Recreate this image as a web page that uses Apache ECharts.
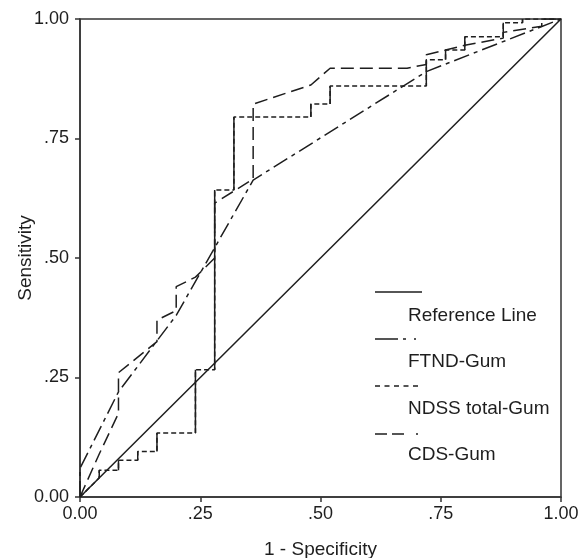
<!DOCTYPE html>
<html>
<head>
<meta charset="utf-8">
<script src="https://cdn.jsdelivr.net/npm/echarts@6/dist/echarts.min.js"></script>
<style>
html,body{margin:0;padding:0;background:#fff;}
#chart{width:587px;height:558px;}
</style>
</head>
<body>
<div id="chart"></div>
<script>
// ---- data ----
const tickLabels = ['0.00', '.25', '.50', '.75', '1.00'];
const legendNames = ['Reference Line', 'FTND-Gum', 'NDSS total-Gum', 'CDS-Gum'];

const refX = [0, 1];
const refY = [0, 1];

const ftndX = [0, 0, 0.08, 0.20, 0.36, 0.72, 1];
const ftndY = [0, 0.06, 0.22, 0.38, 0.663, 0.89, 1];

const ndssX = [0, 0.04, 0.04, 0.08, 0.08, 0.12, 0.12, 0.16, 0.16, 0.24, 0.24, 0.28, 0.28, 0.32, 0.32, 0.48, 0.48, 0.52, 0.52, 0.72, 0.72, 0.76, 0.76, 0.80, 0.80, 0.88, 0.88, 0.92, 0.92, 1];
const ndssY = [0, 0.04, 0.056, 0.056, 0.077, 0.077, 0.095, 0.095, 0.134, 0.134, 0.266, 0.266, 0.642, 0.642, 0.795, 0.795, 0.822, 0.822, 0.86, 0.86, 0.915, 0.915, 0.935, 0.935, 0.963, 0.963, 0.992, 0.992, 1, 1];

const cdsX = [0, 0.04, 0.08, 0.08, 0.16, 0.16, 0.20, 0.20, 0.24, 0.28, 0.28, 0.36, 0.36, 0.48, 0.52, 0.68, 0.72, 0.72, 0.76, 0.80, 0.88, 0.88, 0.96, 0.96, 1];
const cdsY = [0, 0.09, 0.175, 0.26, 0.325, 0.37, 0.39, 0.44, 0.46, 0.50, 0.615, 0.665, 0.822, 0.862, 0.897, 0.897, 0.905, 0.925, 0.935, 0.945, 0.96, 0.972, 0.985, 1, 1];

// ---- helpers ----
function pairs(xs, ys) { return xs.map((x, i) => [x, ys[i]]); }
// vertical steps of a staircase curve (drawn solid in the reference)
function verticalSteps(xs, ys) {
  const out = [];
  for (let i = 1; i < xs.length; i++) {
    if (xs[i] === xs[i - 1] && ys[i] !== ys[i - 1]) {
      out.push([xs[i - 1], ys[i - 1]], [xs[i], ys[i]], null);
    }
  }
  return out;
}

const INK = '#1e1e1e';
const FONT = '"Liberation Sans", Arial, Helvetica, sans-serif';
const chart = echarts.init(document.getElementById('chart'), null, {renderer: 'canvas'});

function lineSeries(name, data, dash, extra) {
  return Object.assign({
    name: name,
    type: 'line',
    data: data,
    showSymbol: false,
    symbol: 'none',
    connectNulls: false,
    silent: true,
    lineStyle: {color: INK, width: 1.5, type: dash},
    z: 3
  }, extra || {});
}

const lgX = 375, lgW = 47, lgTextX = 408;
const lgLineY = [292, 339, 386, 434];
const lgTextY = [316, 362, 409, 455];
const lgDash = [null, [23, 5, 3, 8, 2, 10], [5, 4.5], [12, 5, 12, 12, 2, 10]];

const graphics = [];
legendNames.forEach((n, i) => {
  graphics.push({
    type: 'line',
    shape: {x1: lgX, y1: lgLineY[i], x2: lgX + lgW, y2: lgLineY[i]},
    style: {stroke: INK, lineWidth: 1.5, lineDash: lgDash[i]},
    silent: true
  });
  graphics.push({
    type: 'text',
    x: lgTextX, y: lgTextY[i],
    style: {text: n, fill: INK, font: '19px ' + FONT, textVerticalAlign: 'middle', verticalAlign: 'middle'},
    silent: true
  });
});

const axisCommon = {
  type: 'value',
  min: 0, max: 1, interval: 0.25,
  nameLocation: 'middle',
  nameMoveOverlap: false,
  nameTextStyle: {color: INK, fontSize: 19, fontFamily: FONT},
  axisLine: {show: true, onZero: false, lineStyle: {color: '#333', width: 1.5}},
  axisTick: {show: true, inside: false, length: 5, lineStyle: {color: '#333', width: 1.5}},
  axisLabel: {
    color: INK, fontSize: 18, fontFamily: FONT,
    formatter: v => tickLabels[Math.round(v * 4)]
  },
  splitLine: {show: false}
};

chart.setOption({
  animation: false,
  backgroundColor: '#fff',
  grid: {left: 80, top: 19, right: 26, bottom: 61, show: true, borderColor: '#333', borderWidth: 1.5, outerBoundsMode: 'none', containLabel: false},
  xAxis: Object.assign({}, axisCommon, {
    name: '1 - Specificity', nameGap: 43,
    axisLabel: Object.assign({}, axisCommon.axisLabel, {margin: 8})
  }),
  yAxis: Object.assign({}, axisCommon, {
    name: 'Sensitivity', nameGap: 45, nameRotate: 90,
    axisLabel: Object.assign({}, axisCommon.axisLabel, {margin: 11})
  }),
  series: [
    lineSeries(legendNames[0], pairs(refX, refY), 'solid'),
    lineSeries(legendNames[1], pairs(ftndX, ftndY), [16, 5, 4, 5]),
    lineSeries(legendNames[2], pairs(ndssX, ndssY), [5, 3]),
    lineSeries(legendNames[2] + ' (steps)', verticalSteps(ndssX, ndssY), 'solid'),
    lineSeries(legendNames[3], pairs(cdsX, cdsY), [13, 6])
  ],
  graphic: graphics
});
</script>
</body>
</html>
